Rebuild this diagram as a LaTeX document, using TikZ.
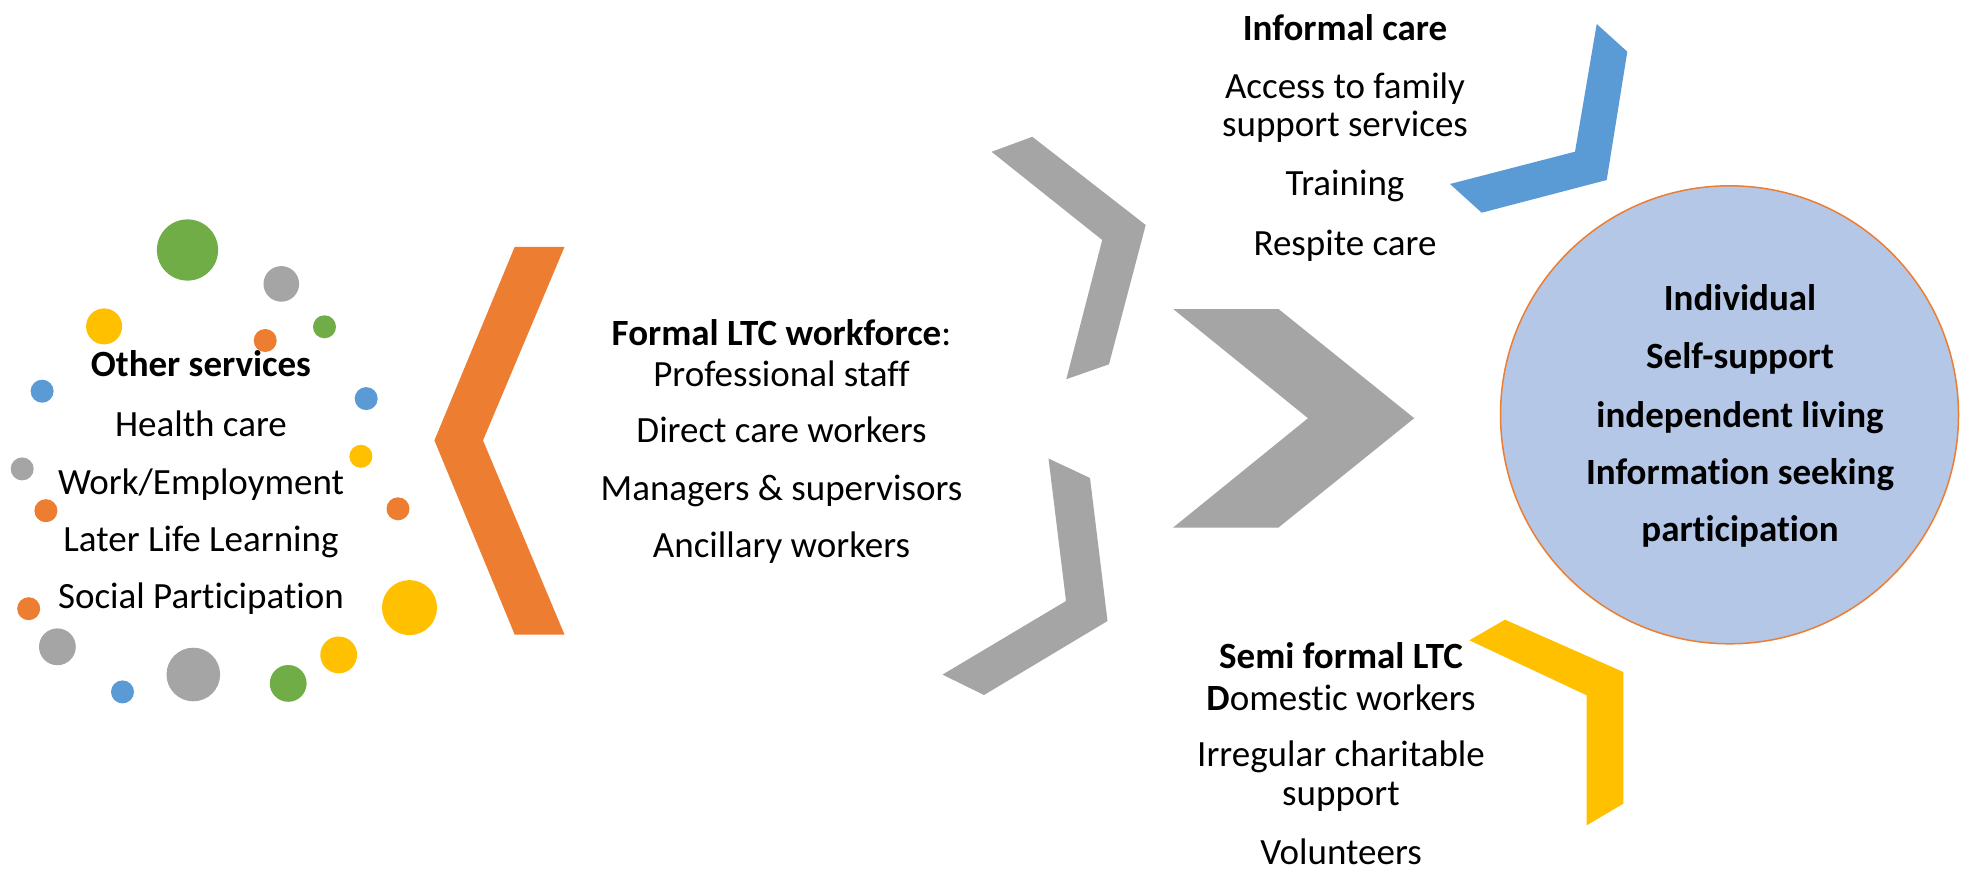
\documentclass[tikz,border=0pt]{standalone}
\usepackage{fontspec}
\setmainfont{Carlito}[Ligatures={NoCommon}]
\definecolor{cOrange}{HTML}{ED7D31}
\definecolor{cGray}{HTML}{A5A5A5}
\definecolor{cBlue}{HTML}{5B9BD5}
\definecolor{cYellow}{HTML}{FFC000}
\definecolor{cGreen}{HTML}{70AD47}
\definecolor{cCircle}{HTML}{B4C7E7}
\begin{document}
\begin{tikzpicture}[x=0.5pt,y=-0.5pt,
  txt/.style={anchor=base,inner sep=0pt,font=\fontsize{18.5}{22}\selectfont},
  btxt/.style={anchor=base,inner sep=0pt,font=\fontsize{18.5}{22}\selectfont\bfseries}]
\useasboundingbox (0,0) rectangle (1964,872);
\fill[white] (0,0) rectangle (1964,872);

% dots
\foreach \px/\py/\rr in {187.5/250/15.3, 324.5/326.8/5.75, 288.2/683.4/9.2}
  \fill[cGreen] (\px,\py) circle[radius=\rr pt];
\foreach \px/\py/\rr in {281.3/283.9/8.9, 22.2/468.9/5.75, 57.4/646.8/9.2, 193.3/674.5/13.4}
  \fill[cGray] (\px,\py) circle[radius=\rr pt];
\foreach \px/\py/\rr in {104.1/326.4/9, 360.9/456.3/5.75, 409.5/607.6/13.75, 338.7/654.9/9.2}
  \fill[cYellow] (\px,\py) circle[radius=\rr pt];
\foreach \px/\py/\rr in {265.2/340.5/5.75, 45.9/510.7/5.75, 398/508.8/5.75, 28.7/608.7/5.75}
  \fill[cOrange] (\px,\py) circle[radius=\rr pt];
\foreach \px/\py/\rr in {42.1/391.2/5.75, 366.2/398.6/5.75, 122.5/691.9/5.75}
  \fill[cBlue] (\px,\py) circle[radius=\rr pt];

% chevrons
\fill[cOrange] (514.7,246.9) -- (564.5,246.9) -- (483,440.4) -- (564.5,634.6) -- (514.7,634.6) -- (434.4,440.4) -- cycle;
\fill[cGray] (991.6,151.8) -- (1032.3,136.8) -- (1145.7,225) -- (1109,364.3) -- (1066.3,379.2) -- (1102.2,240) -- cycle;
\fill[cGray] (1173.2,309) -- (1278.5,309) -- (1414.2,418.2) -- (1278.5,527.5) -- (1173.2,527.5) -- (1308,418.2) -- cycle;
\fill[cGray] (1048.5,458.5) -- (1090,478) -- (1107.5,621) -- (984,695) -- (942.5,674.6) -- (1066,601) -- cycle;
\fill[cBlue] (1596.7,24) -- (1627.3,51.7) -- (1606.7,180) -- (1481.7,212.7) -- (1450,184) -- (1575,151.7) -- cycle;
\fill[cYellow] (1505,619.7) -- (1623.3,672) -- (1623.3,803.7) -- (1586.7,825.3) -- (1586.7,695.3) -- (1469.3,640.3) -- cycle;

% individual circle
\node[circle, draw=cOrange, line width=0.75pt, fill=cCircle, minimum size=229pt, inner sep=0pt] (indiv) at (1729.5,414.8) {};

% left text
\node[btxt] (os)  at (201,376.5) {Other services};
\node[txt]  (hc)  at (201,436.5) {Health care};
\node[txt]  (we)  at (201,494)   {Work/Employment};
\node[txt]  (lll) at (201,551)   {Later Life Learning};
\node[txt]  (sp)  at (201,608)   {Social Participation};

% middle text
\node[txt] (flw) at (781.5,345)   {\textbf{Formal LTC workforce}:};
\node[txt] (ps)  at (781.5,386.3) {Professional staff};
\node[txt] (dcw) at (781.5,442.5) {Direct care workers};
\node[txt] (ms)  at (781.5,500)   {Managers \& supervisors};
\node[txt] (aw)  at (781.5,557.3) {Ancillary workers};

% informal care
\node[btxt] (ic)  at (1345,40.7)  {Informal care};
\node[txt]  (atf) at (1345,98.3)  {Access to family};
\node[txt]  (sps) at (1345,136.7) {support services};
\node[txt]  (tr)  at (1345,195)   {Training};
\node[txt]  (rc)  at (1345,255)   {Respite care};

% circle text
\node[btxt] (ind) at (1740,310.2) {Individual};
\node[btxt] (ss)  at (1740,368.8) {Self-support};
\node[btxt] (il)  at (1740,427.5) {independent living};
\node[btxt] (is)  at (1740,484)   {Information seeking};
\node[btxt] (pa)  at (1740,541)   {participation};

% semi formal
\node[btxt] (sf)  at (1341,668.7) {Semi formal LTC};
\node[txt]  (dw)  at (1341,710.3) {\textbf{D}omestic workers};
\node[txt]  (irc) at (1341,766)   {Irregular charitable};
\node[txt]  (sup) at (1341,805)   {support};
\node[txt]  (vol) at (1341,864)   {Volunteers};
\end{tikzpicture}
\end{document}
